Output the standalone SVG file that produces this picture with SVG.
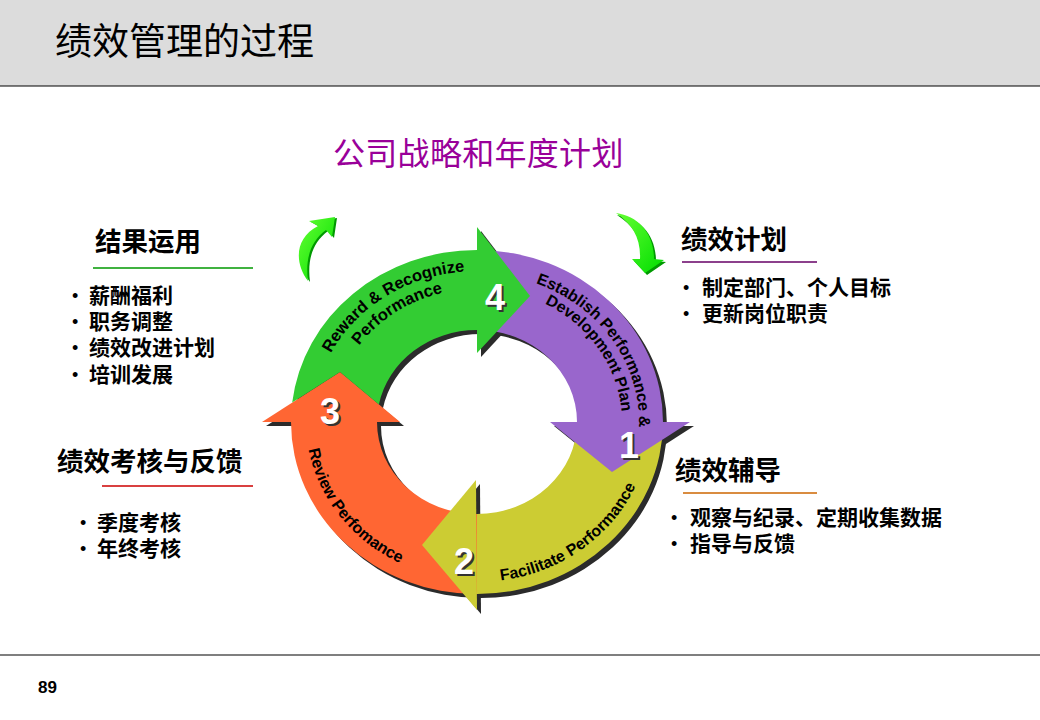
<svg xmlns="http://www.w3.org/2000/svg" width="1040" height="720" viewBox="0 0 1040 720">
<defs>
<style>
.title{font-family:"Noto Sans CJK SC",sans-serif;font-size:37px;fill:#000;}
.sub{font-family:"Noto Sans CJK SC",sans-serif;font-size:32px;letter-spacing:0.3px;fill:#990099;}
.hd{font-family:"Noto Sans CJK SC",sans-serif;font-weight:bold;font-size:26.5px;fill:#000;}
.bl{font-family:"Noto Sans CJK SC",sans-serif;font-weight:bold;font-size:21px;fill:#000;}
.dot{font-family:"Liberation Sans",Arial,sans-serif;font-weight:normal;font-size:18px;}
.arc{font-family:"Liberation Sans",Arial,sans-serif;font-weight:bold;fill:#000;}
.num{font-family:"Liberation Sans",Arial,sans-serif;font-weight:bold;font-size:36px;text-anchor:middle;}
.numsh{fill:#333;}
.numfg{fill:#fff;}
.shd{fill:#2b2b2b;}
.cg{fill:#33CC33;}
.cp{fill:#9966CC;}
.cy{fill:#CCCC33;}
.co{fill:#FF6633;}
</style>
<linearGradient id="ga" x1="0" y1="0" x2="1" y2="1">
<stop offset="0" stop-color="#66FF33"/>
<stop offset="1" stop-color="#00DD00"/>
</linearGradient>
<path id="gb" d="M 292.2 402.6 A 186 172 0 0 1 477 250 L 477 330 A 100 92 0 0 0 378.9 404.4 L 340 372 Z"/>
<path id="gh" d="M 477 227 L 477 353 L 530 296 Z"/>
<path id="pb" d="M 477 250 A 186 172 0 0 1 663 422 L 577 422 A 100 92 0 0 0 477 330 Z"/>
<path id="ph" d="M 550 422 L 690 422 L 612 472 Z"/>
<path id="yb" d="M 663 422 A 186 172 0 0 1 477 594 L 477 514 A 100 92 0 0 0 577 422 Z"/>
<path id="yh" d="M 476 480 L 477 610 L 422 545 Z"/>
<path id="ob" d="M 477 594 A 186 172 0 0 1 291 422 L 377 422 A 100 92 0 0 0 477 514 Z"/>
<path id="oh" d="M 262 422 L 400 422 L 340 372 Z"/>
<path id="tpg1" d="M 313 422 A 164 151 0 0 1 477 271"/>
<path id="tpg2" d="M 333 422 A 144 133 0 0 1 477 289"/>
<path id="tpp1" d="M 477 273 A 162 149 0 0 1 639 422 A 162 149 0 0 1 624 485"/>
<path id="tpp2" d="M 477 288 A 145 134 0 0 1 622 422 A 145 134 0 0 1 608 479"/>
<path id="tpy" d="M 477 582 A 173 160 0 0 0 650 422"/>
<path id="tpo" d="M 306 422 A 171 158 0 0 0 477 580"/>
</defs>

<rect x="0" y="0" width="1040" height="86" fill="#DCDCDC"/>
<line x1="0" y1="86" x2="1040" y2="86" stroke="#000" stroke-width="1.2"/>
<text class="title" x="55" y="55">绩效管理的过程</text>
<text class="sub" x="333" y="165">公司战略和年度计划</text>

<g id="shadows" transform="translate(4,4)">
<use href="#ob" class="shd"/><use href="#oh" class="shd"/>
<use href="#yb" class="shd"/><use href="#yh" class="shd"/>
<use href="#pb" class="shd"/><use href="#ph" class="shd"/>
<use href="#gb" class="shd"/><use href="#gh" class="shd"/>
</g>

<g id="step3-review">
<use href="#ob" class="co"/><use href="#oh" class="co"/>
<text class="arc" font-size="16"><textPath href="#tpo" startOffset="40%" text-anchor="middle">Review Perfomance</textPath></text>
<text class="num numsh" x="332" y="426">3</text>
<text class="num numfg" x="330" y="424">3</text>
</g>

<g id="step2-facilitate">
<use href="#yb" class="cy"/><use href="#yh" class="cy"/>
<text class="arc" font-size="16"><textPath href="#tpy" startOffset="42%" text-anchor="middle">Facilitate Performance</textPath></text>
<text class="num numsh" x="466" y="576">2</text>
<text class="num numfg" x="464" y="574">2</text>
</g>

<g id="step1-establish">
<use href="#pb" class="cp"/><use href="#ph" class="cp"/>
<text class="arc" font-size="16"><textPath href="#tpp1" startOffset="60">Establish Performance &amp;</textPath></text>
<text class="arc" font-size="16"><textPath href="#tpp2" startOffset="70">Development Plan</textPath></text>
<text class="num numsh" x="631" y="460">1</text>
<text class="num numfg" x="629" y="458">1</text>
</g>

<g id="step4-reward">
<use href="#gb" class="cg"/><use href="#gh" class="cg"/>
<text class="arc" font-size="16.5"><textPath href="#tpg1" startOffset="62%" text-anchor="middle">Reward &amp; Recognize</textPath></text>
<text class="arc" font-size="16.5"><textPath href="#tpg2" startOffset="61%" text-anchor="middle">Performance</textPath></text>
<text class="num numsh" x="497" y="312">4</text>
<text class="num numfg" x="495" y="310">4</text>
</g>

<g id="connectors">
<path d="M 310 282 C 296 263, 297 239, 320 227 L 311 222 L 337 218 L 334 238 L 328 231 C 313 242, 307 259, 310 282 Z" fill="#009900"/>
<path d="M 308 281 C 294 262, 295 238, 318 226 L 309 221 L 335 217 L 332 237 L 326 230 C 311 241, 305 258, 308 281 Z" fill="url(#ga)"/>
<path d="M 617 215 C 640 218, 656 235, 656 261 L 666 262 L 647 275 L 634 261 L 642 261 C 643 240, 634 226, 617 215 Z" fill="#009900"/>
<path d="M 616 213 C 638 216, 654 233, 654 259 L 664 260 L 645 273 L 632 259 L 640 259 C 641 238, 632 224, 616 213 Z" fill="url(#ga)"/>
</g>

<g id="sec-result">
<text class="hd" x="95" y="251">结果运用</text>
<line x1="93" y1="268" x2="253" y2="268" stroke="#009900" stroke-width="1.5"/>
<text class="bl" x="72" y="303"><tspan class="dot" dy="-1">•</tspan><tspan x="89" dy="1">薪酬福利</tspan></text>
<text class="bl" x="72" y="329"><tspan class="dot" dy="-1">•</tspan><tspan x="89" dy="1">职务调整</tspan></text>
<text class="bl" x="72" y="355"><tspan class="dot" dy="-1">•</tspan><tspan x="89" dy="1">绩效改进计划</tspan></text>
<text class="bl" x="72" y="382"><tspan class="dot" dy="-1">•</tspan><tspan x="89" dy="1">培训发展</tspan></text>
</g>

<g id="sec-review">
<text class="hd" x="57" y="471">绩效考核与反馈</text>
<line x1="102" y1="486" x2="253" y2="486" stroke="#CC0000" stroke-width="1.5"/>
<text class="bl" x="80" y="530"><tspan class="dot" dy="-1">•</tspan><tspan x="97" dy="1">季度考核</tspan></text>
<text class="bl" x="80" y="556"><tspan class="dot" dy="-1">•</tspan><tspan x="97" dy="1">年终考核</tspan></text>
</g>

<g id="sec-plan">
<text class="hd" x="681" y="249">绩效计划</text>
<line x1="682" y1="262" x2="817" y2="262" stroke="#660066" stroke-width="1.5"/>
<text class="bl" x="683" y="295"><tspan class="dot" dy="-1">•</tspan><tspan x="702" dy="1">制定部门、个人目标</tspan></text>
<text class="bl" x="683" y="321"><tspan class="dot" dy="-1">•</tspan><tspan x="702" dy="1">更新岗位职责</tspan></text>
</g>

<g id="sec-coach">
<text class="hd" x="675" y="480">绩效辅导</text>
<line x1="683" y1="493" x2="817" y2="493" stroke="#CC6600" stroke-width="1.5"/>
<text class="bl" x="671" y="525"><tspan class="dot" dy="-1">•</tspan><tspan x="690" dy="1">观察与纪录、定期收集数据</tspan></text>
<text class="bl" x="671" y="551"><tspan class="dot" dy="-1">•</tspan><tspan x="690" dy="1">指导与反馈</tspan></text>
</g>

<line x1="0" y1="655" x2="1040" y2="655" stroke="#000" stroke-width="1.2"/>
<text x="38" y="693" font-family="Liberation Sans, Arial, sans-serif" font-weight="bold" font-size="17">89</text>
</svg>
